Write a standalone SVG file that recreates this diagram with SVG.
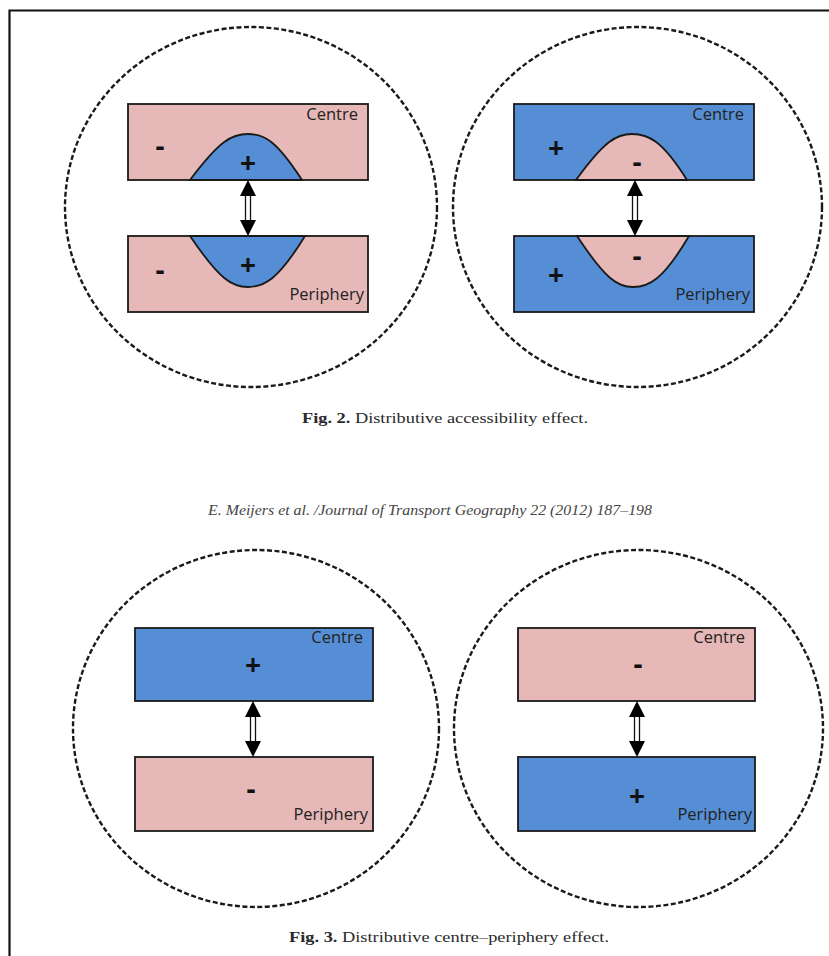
<svg xmlns="http://www.w3.org/2000/svg" width="829" height="956" viewBox="0 0 829 956">
<style>
.frame{fill:none;stroke:#111;stroke-width:2.2}
.ring{fill:none;stroke:#1a1a1a;stroke-width:2.4;stroke-dasharray:5 2.5}
.pink{fill:#E6B8B7;stroke:#1a1a1a;stroke-width:1.8}
.blue{fill:#558ED5;stroke:#1a1a1a;stroke-width:1.8}
.lab{font-family:"Open Sans","DejaVu Sans",sans-serif;font-size:16.5px;fill:#222;text-anchor:end}
.sign{font-family:"Open Sans","DejaVu Sans",sans-serif;font-size:28px;font-weight:bold;fill:#111;text-anchor:middle}
.cap{font-family:"Liberation Serif","DejaVu Serif",serif;font-size:15px;fill:#2a2a2a}
.jour{font-family:"Liberation Serif","DejaVu Serif",serif;font-size:14.5px;font-style:italic;fill:#444}
</style>
<defs>
<g id="arrow">
<rect x="-2.5" y="14" width="5" height="28" fill="#fff" stroke="#111" stroke-width="1.3"/>
<polygon points="0,0 8,16 -8,16" fill="#000"/>
<polygon points="0,56 8,40 -8,40" fill="#000"/>
</g>
</defs>
<rect width="829" height="956" fill="#fff"/>
<path class="frame" d="M9.5,956 V10.5 H829"/>

<g id="fig2-left">
<ellipse class="ring" cx="251" cy="207" rx="186" ry="180"/>
<g id="fig2-left-centre">
<rect class="pink" x="128" y="104" width="240" height="76"/>
<path class="blue" d="M190,180 C220,140 232,134 248,134 C264,134 276,140 302,180 Z"/>
<text class="lab" x="358" y="120">Centre</text>
<text class="sign" x="160" y="156">-</text>
<text class="sign" x="248" y="173">+</text>
</g>
<g id="fig2-left-periphery">
<rect class="pink" x="128" y="236" width="240" height="76"/>
<path class="blue" d="M190,236 C220,280 232,287 248,287 C264,287 278,280 305,236 Z"/>
<text class="lab" x="364" y="300">Periphery</text>
<text class="sign" x="160" y="280">-</text>
<text class="sign" x="248" y="275">+</text>
</g>
</g>

<g id="fig2-right">
<ellipse class="ring" cx="637.5" cy="207" rx="184.5" ry="180"/>
<g id="fig2-right-centre">
<rect class="blue" x="514" y="104" width="240" height="76"/>
<path class="pink" d="M576,180 C605,140 617,134 632,134 C648,134 662,140 687,180 Z"/>
<text class="lab" x="744" y="120">Centre</text>
<text class="sign" x="556" y="158">+</text>
<text class="sign" x="637" y="172">-</text>
</g>
<g id="fig2-right-periphery">
<rect class="blue" x="514" y="236" width="240" height="76"/>
<path class="pink" d="M577,236 C606,280 618,287 633,287 C649,287 663,280 689,236 Z"/>
<text class="lab" x="750" y="300">Periphery</text>
<text class="sign" x="556" y="285">+</text>
<text class="sign" x="637" y="266">-</text>
</g>
</g>

<g id="caption-fig2">
<text class="cap" x="445" y="423" text-anchor="middle" textLength="286" lengthAdjust="spacingAndGlyphs"><tspan font-weight="bold">Fig. 2.</tspan> Distributive accessibility effect.</text>
</g>
<g id="journal-line">
<text class="jour" x="430" y="515" text-anchor="middle" textLength="444" lengthAdjust="spacingAndGlyphs">E. Meijers et al. /Journal of Transport Geography 22 (2012) 187–198</text>
</g>

<g id="fig3-left">
<ellipse class="ring" cx="256" cy="728.5" rx="183" ry="178.5"/>
<g id="fig3-left-centre">
<rect class="blue" x="135" y="628" width="238" height="73"/>
<text class="lab" x="363" y="643">Centre</text>
<text class="sign" x="253" y="675">+</text>
</g>
<g id="fig3-left-periphery">
<rect class="pink" x="135" y="757" width="238" height="74"/>
<text class="lab" x="368" y="820">Periphery</text>
<text class="sign" x="251" y="799">-</text>
</g>
</g>

<g id="fig3-right">
<ellipse class="ring" cx="638.5" cy="728.5" rx="184.5" ry="178.5"/>
<g id="fig3-right-centre">
<rect class="pink" x="518" y="628" width="237" height="73"/>
<text class="lab" x="745" y="643">Centre</text>
<text class="sign" x="638" y="674">-</text>
</g>
<g id="fig3-right-periphery">
<rect class="blue" x="518" y="757" width="237" height="74"/>
<text class="lab" x="752" y="820">Periphery</text>
<text class="sign" x="637" y="806">+</text>
</g>
</g>

<g id="caption-fig3">
<text class="cap" x="449" y="942" text-anchor="middle" textLength="320" lengthAdjust="spacingAndGlyphs"><tspan font-weight="bold">Fig. 3.</tspan> Distributive centre–periphery effect.</text>
</g>

<g id="connectors">
<use href="#arrow" transform="translate(248,180)"/>
<use href="#arrow" transform="translate(635,180)"/>
<use href="#arrow" transform="translate(253,701)"/>
<use href="#arrow" transform="translate(637,701)"/>
</g>
</svg>
